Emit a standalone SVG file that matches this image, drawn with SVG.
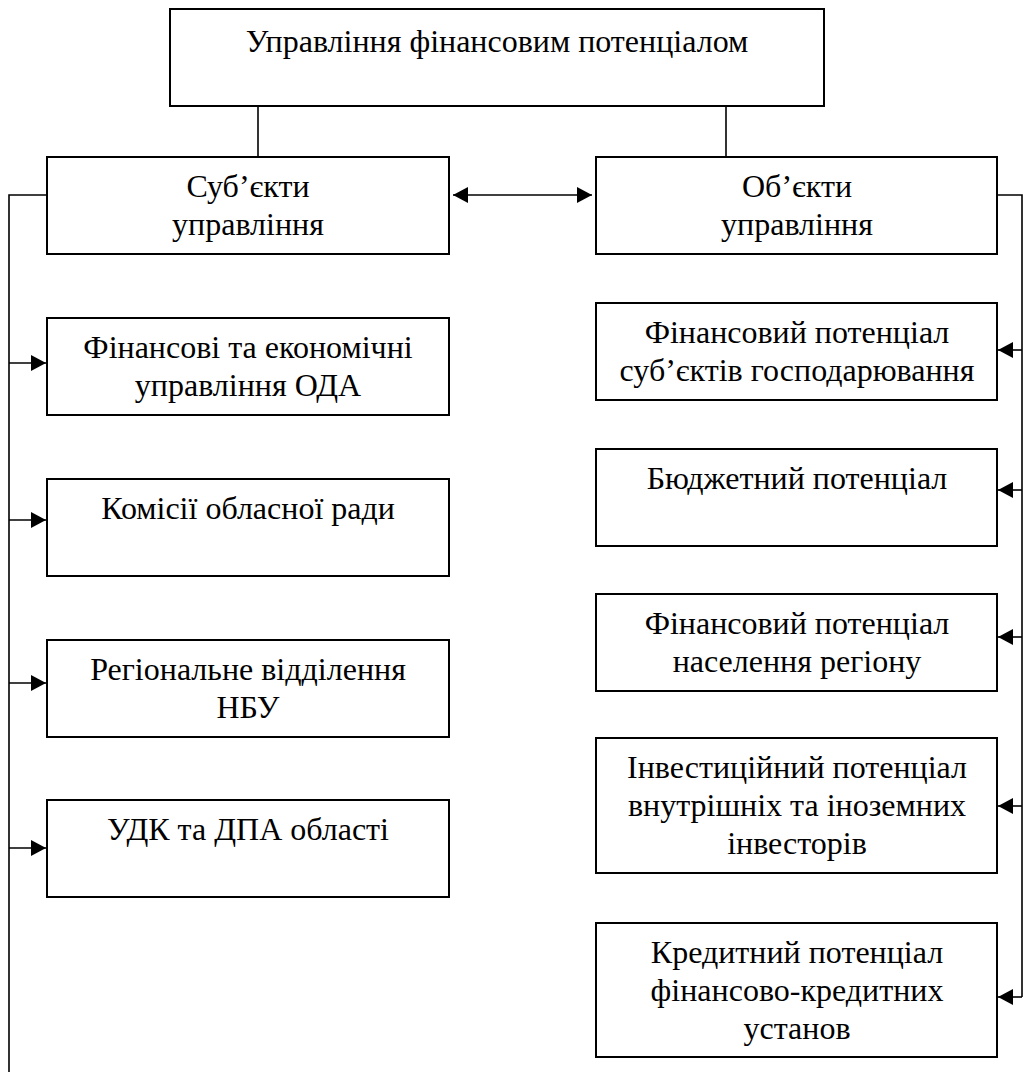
<svg xmlns="http://www.w3.org/2000/svg" width="1023" height="1078" viewBox="0 0 1023 1078">
<style>
.box{fill:#fff;stroke:#000;stroke-width:2}
.ln{fill:none;stroke:#000;stroke-width:1.6}
.t{font-family:'Liberation Serif','Times New Roman','DejaVu Serif',serif;font-size:32px;fill:#000;text-anchor:middle}
</style>
<defs>
<marker id="ah" viewBox="0 0 15 16" refX="15" refY="8" markerWidth="15" markerHeight="16" markerUnits="userSpaceOnUse" orient="auto-start-reverse">
<path d="M0,0 L15,8 L0,16 z" fill="#000"/>
</marker>
</defs>
<g id="connectors">
<line class="ln" x1="258" y1="106" x2="258" y2="157"/>
<line class="ln" x1="726" y1="106" x2="726" y2="157"/>
<line class="ln" x1="453" y1="195" x2="592" y2="195" marker-start="url(#ah)" marker-end="url(#ah)"/>
<polyline class="ln" points="47,195 9,195 9,1072"/>
<line class="ln" x1="9" y1="363" x2="46" y2="363" marker-end="url(#ah)"/>
<line class="ln" x1="9" y1="520" x2="46" y2="520" marker-end="url(#ah)"/>
<line class="ln" x1="9" y1="683" x2="46" y2="683" marker-end="url(#ah)"/>
<line class="ln" x1="9" y1="848" x2="46" y2="848" marker-end="url(#ah)"/>
<polyline class="ln" points="997,195 1022,195 1022,997"/>
<line class="ln" x1="1022" y1="350" x2="998" y2="350" marker-end="url(#ah)"/>
<line class="ln" x1="1022" y1="490" x2="998" y2="490" marker-end="url(#ah)"/>
<line class="ln" x1="1022" y1="637" x2="998" y2="637" marker-end="url(#ah)"/>
<line class="ln" x1="1022" y1="806" x2="998" y2="806" marker-end="url(#ah)"/>
<line class="ln" x1="1022" y1="997" x2="998" y2="997" marker-end="url(#ah)"/>
</g>
<g id="root">
<rect class="box" x="170" y="9" width="654" height="97"/>
<text class="t" x="497" y="52">Управління фінансовим потенціалом</text>
</g>
<g id="subjects">
<rect class="box" x="47" y="157" width="402" height="97"/>
<text class="t" x="248" y="197">Суб’єкти</text>
<text class="t" x="248" y="235">управління</text>
</g>
<g id="objects">
<rect class="box" x="596" y="157" width="401" height="97"/>
<text class="t" x="797" y="197">Об’єкти</text>
<text class="t" x="797" y="235">управління</text>
</g>
<g id="s1">
<rect class="box" x="47" y="318" width="402" height="97"/>
<text class="t" x="248" y="358">Фінансові та економічні</text>
<text class="t" x="248" y="396">управління ОДА</text>
</g>
<g id="s2">
<rect class="box" x="47" y="479" width="402" height="97"/>
<text class="t" x="248" y="519">Комісії обласної ради</text>
</g>
<g id="s3">
<rect class="box" x="47" y="640" width="402" height="97"/>
<text class="t" x="248" y="680">Регіональне відділення</text>
<text class="t" x="248" y="718">НБУ</text>
</g>
<g id="s4">
<rect class="box" x="47" y="800" width="402" height="97"/>
<text class="t" x="248" y="840">УДК та ДПА області</text>
</g>
<g id="o1">
<rect class="box" x="596" y="303" width="401" height="97"/>
<text class="t" x="797" y="343">Фінансовий потенціал</text>
<text class="t" x="797" y="381">суб’єктів господарювання</text>
</g>
<g id="o2">
<rect class="box" x="596" y="449" width="401" height="97"/>
<text class="t" x="797" y="489">Бюджетний потенціал</text>
</g>
<g id="o3">
<rect class="box" x="596" y="594" width="401" height="97"/>
<text class="t" x="797" y="634">Фінансовий потенціал</text>
<text class="t" x="797" y="672">населення регіону</text>
</g>
<g id="o4">
<rect class="box" x="596" y="738" width="401" height="135"/>
<text class="t" x="797" y="778">Інвестиційний потенціал</text>
<text class="t" x="797" y="816">внутрішніх та іноземних</text>
<text class="t" x="797" y="854">інвесторів</text>
</g>
<g id="o5">
<rect class="box" x="596" y="923" width="401" height="134"/>
<text class="t" x="797" y="963">Кредитний потенціал</text>
<text class="t" x="797" y="1001">фінансово-кредитних</text>
<text class="t" x="797" y="1039">установ</text>
</g>
</svg>
